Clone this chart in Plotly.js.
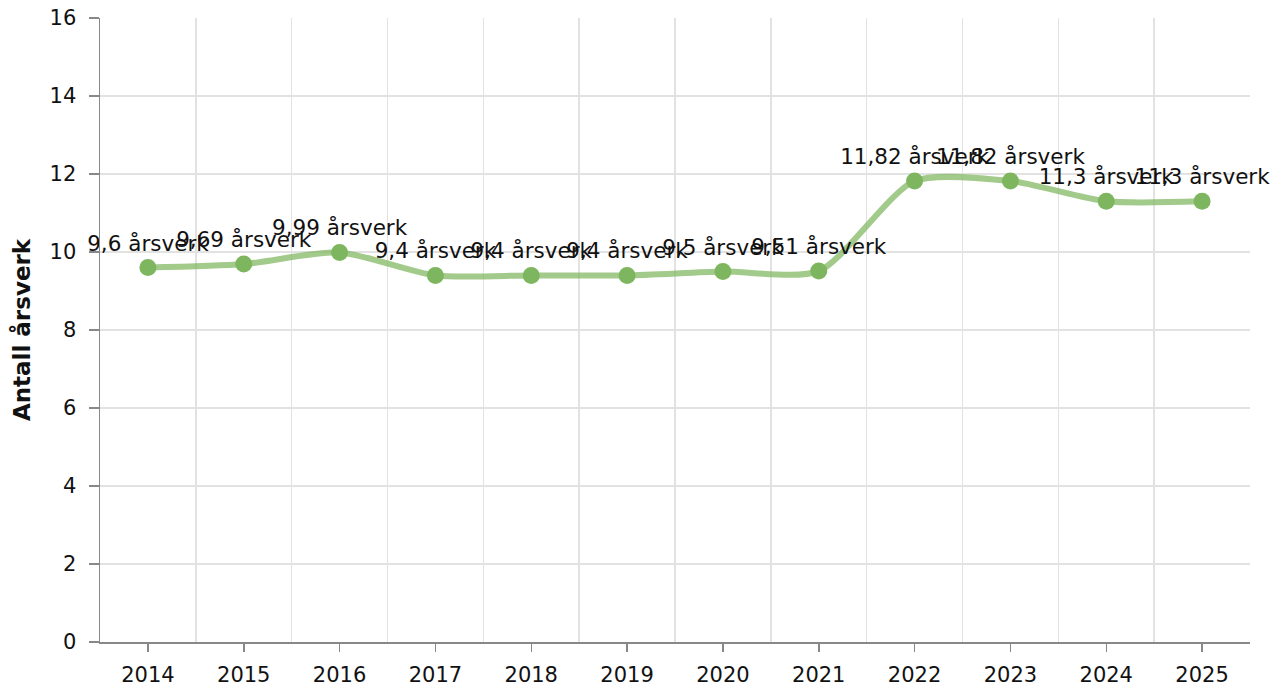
<!DOCTYPE html>
<html>
<head>
<meta charset="utf-8">
<script src="https://cdn.plot.ly/plotly-3.0.1.min.js"></script>
<style>html,body{margin:0;padding:0;background:#fff;}#chart{width:1287px;height:691px;}</style>
</head>
<body>
<div id="chart"></div>
<script>
const years = [2014, 2015, 2016, 2017, 2018, 2019, 2020, 2021, 2022, 2023, 2024, 2025];
const values = [9.6, 9.69, 9.99, 9.4, 9.4, 9.4, 9.5, 9.51, 11.82, 11.82, 11.3, 11.3];
const labels = ["9,6 årsverk", "9,69 årsverk", "9,99 årsverk", "9,4 årsverk", "9,4 årsverk", "9,4 årsverk", "9,5 årsverk", "9,51 årsverk", "11,82 årsverk", "11,82 årsverk", "11,3 årsverk", "11,3 årsverk"];
const yTicks = [0, 2, 4, 6, 8, 10, 12, 14, 16];

const font = "DejaVu Sans, Verdana, sans-serif";

const trace = {
  x: years,
  y: values,
  text: labels,
  mode: "lines+markers+text",
  textposition: "top center",
  textfont: {family: font, size: 21.5, color: "#111"},
  line: {shape: "spline", smoothing: 0.7, color: "rgba(125,182,94,0.72)", width: 6},
  marker: {color: "#7db65e", size: 17},
  hoverinfo: "x+y",
  cliponaxis: false
};

const layout = {
  width: 1287, height: 691,
  margin: {l: 100, r: 37, t: 18, b: 49},
  paper_bgcolor: "#fff", plot_bgcolor: "#fff",
  showlegend: false,
  font: {family: font, size: 21, color: "#111"},
  xaxis: {
    type: "linear",
    range: [2013.5, 2025.5],
    tickvals: years,
    ticktext: years.map(String),
    showgrid: false,
    zeroline: false,
    showline: true, linecolor: "#888", linewidth: 1.5,
    ticks: "outside", ticklen: 8, tickcolor: "#888", tickwidth: 1.5,
    ticklabelstandoff: 5,
    tickfont: {family: font, size: 21, color: "#111"},
    minor: {tick0: 2013.5, dtick: 1, showgrid: true, gridcolor: "#e2e2e2", gridwidth: 1.5, ticks: ""}
  },
  yaxis: {
    range: [0, 16],
    tickvals: yTicks,
    showgrid: true, gridcolor: "#e2e2e2", gridwidth: 1.5,
    zeroline: false,
    showline: true, linecolor: "#888", linewidth: 1.5,
    ticks: "outside", ticklen: 10, tickcolor: "#888", tickwidth: 1.5,
    ticklabelstandoff: 8,
    tickfont: {family: font, size: 21, color: "#111"},
    title: {text: "<b>Antall årsverk</b>", font: {family: font, size: 23, color: "#111"}, standoff: 12}
  }
};

Plotly.newPlot("chart", [trace], layout, {displayModeBar: false, staticPlot: true});
</script>
</body>
</html>
